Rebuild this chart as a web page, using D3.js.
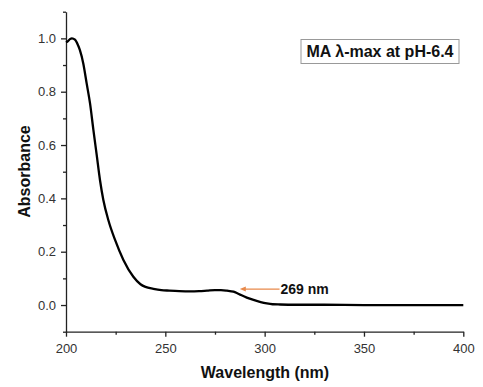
<!DOCTYPE html>
<html>
<head>
<meta charset="utf-8">
<script src="https://cdn.jsdelivr.net/npm/d3@7"></script>
<style>
html,body{margin:0;padding:0;background:#fff;}
svg{display:block;font-family:Arial,"Liberation Sans",sans-serif;}
</style>
</head>
<body>
<svg id="chart" width="483" height="387"></svg>
<script>
const wavelength = [200,201,202,203,204.5,206,207,208.7,210.4,212.1,213.8,215.5,217.1,218.8,221.3,224.7,228.9,233.9,237.5,240,244,248,252,257,262.5,267,271,275,278,281,284.3,286,287.7,291,294.4,298,301.1,304,307.8,315,330,350,375,400];
const absorbance = [0.985,0.99,0.997,1.0,0.995,0.975,0.956,0.906,0.831,0.756,0.656,0.56,0.469,0.394,0.319,0.244,0.169,0.106,0.078,0.068,0.061,0.056,0.054,0.052,0.051,0.052,0.054,0.056,0.056,0.054,0.05,0.045,0.039,0.028,0.019,0.011,0.006,0.003,0.002,0.001,0.001,0.0,0.0,0.0];
const xTicks = [200,250,300,350,400];
const xMinor = [225,275,325,375];
const yTicks = [0.0,0.2,0.4,0.6,0.8,1.0];
const yMinor = [-0.1,0.1,0.3,0.5,0.7,0.9,1.1];
const legendText = "MA \u03BB-max at pH-6.4";
const annotText = "269 nm";
const annotWl = [287.5, 307.5];
const annotY = 0.06;

const svg = d3.select("#chart");
const x = d3.scaleLinear().domain([200,400]).range([66,463.3]);
const y = d3.scaleLinear().domain([-0.1,1.1]).range([331.7,11.7]);
const axisColor = "#222";
const labelColor = "#333";

// X axis
const gx = svg.append("g").attr("transform",`translate(0,${y(-0.1)})`);
gx.call(d3.axisBottom(x).tickValues(xTicks).tickSize(5).tickSizeOuter(0).tickFormat(d3.format("d")));
gx.append("g").call(d3.axisBottom(x).tickValues(xMinor).tickSize(3).tickSizeOuter(0).tickFormat(""))
  .select(".domain").remove();
gx.selectAll("text").attr("font-size",13).attr("fill",labelColor).attr("dy","1.0em").attr("font-family","Arial, 'Liberation Sans', sans-serif");

// Y axis
const gy = svg.append("g").attr("transform",`translate(${x(200)},0)`);
gy.call(d3.axisLeft(y).tickValues(yTicks).tickSize(5).tickSizeOuter(0).tickFormat(d3.format(".1f")));
gy.append("g").call(d3.axisLeft(y).tickValues(yMinor).tickSize(3).tickSizeOuter(0).tickFormat(""))
  .select(".domain").remove();
gy.selectAll("text").attr("font-size",13).attr("fill",labelColor).attr("x",-10).attr("font-family","Arial, 'Liberation Sans', sans-serif");

svg.selectAll(".domain, .tick line").attr("stroke",axisColor).attr("stroke-width",1.3);

// curve
const line = d3.line().x((d,i)=>x(wavelength[i])).y(d=>y(d)).curve(d3.curveMonotoneX);
svg.append("path").datum(absorbance).attr("d",line)
  .attr("fill","none").attr("stroke","#000").attr("stroke-width",2.3).attr("stroke-linejoin","round");

// annotation arrow
const ax1 = x(annotWl[0]), ax2 = x(annotWl[1]), ay = y(annotY);
svg.append("line").attr("x1",ax1+4).attr("x2",ax2).attr("y1",ay).attr("y2",ay)
  .attr("stroke","#e8894a").attr("stroke-width",1.3);
svg.append("path").attr("d",`M${ax1},${ay} L${ax1+6},${ay-2.5} L${ax1+6},${ay+2.5} Z`).attr("fill","#e8894a");
svg.append("text").attr("x",ax2+1).attr("y",ay+5).attr("font-size",14).attr("font-weight","bold")
  .attr("fill","#111").text(annotText);

// legend box
svg.append("rect").attr("x",301).attr("y",39.5).attr("width",158).attr("height",24)
  .attr("fill","#fff").attr("stroke","#999").attr("stroke-width",1);
svg.append("text").attr("x",380).attr("y",57).attr("text-anchor","middle").attr("font-size",16)
  .attr("font-weight","bold").attr("fill","#111").text(legendText);

// axis titles
svg.append("text").attr("x",265).attr("y",378).attr("text-anchor","middle").attr("font-size",16)
  .attr("font-weight","bold").attr("fill","#111").text("Wavelength (nm)");
svg.append("text").attr("transform","translate(30,171.5) rotate(-90)").attr("text-anchor","middle")
  .attr("font-size",16).attr("font-weight","bold").attr("fill","#111").text("Absorbance");
</script>
</body>
</html>
